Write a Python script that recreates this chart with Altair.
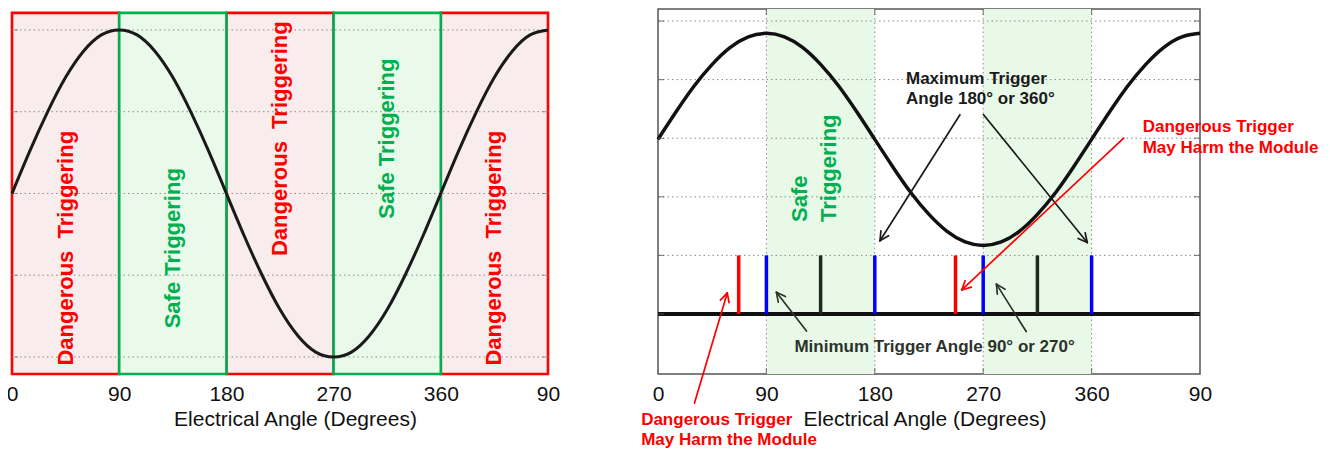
import math
import altair as alt
import pandas as pd

FONT = "Liberation Sans"
RED = "#ff0000"
GREEN = "#00b050"
BLUE = "#0000ff"
DARK = "#1e2a1e"

# ---------------- data ----------------
angles = list(range(0, 451, 15))
# waveform (normalised amplitude)
left_wave = [0, .26, .5, .71, .87, .97, 1, .97, .87, .71, .5, .26, 0, -.26, -.5, -.71,
             -.87, -.97, -1, -.97, -.87, -.71, -.5, -.26, 0, .26, .5, .71, .87, .97, 1]
# waveform (grid units)
right_wave = [2.98, 3.45, 3.89, 4.26, 4.55, 4.73, 4.79, 4.73, 4.55, 4.26, 3.89, 3.45, 2.98,
              2.51, 2.07, 1.70, 1.41, 1.23, 1.17, 1.23, 1.41, 1.70, 2.07, 2.51, 2.98, 3.45,
              3.89, 4.26, 4.55, 4.73, 4.79]

tick_angles = [0, 90, 180, 270, 360, 450]

region_start = [0, 90, 180, 270, 360]
region_end = [90, 180, 270, 360, 450]
region_kind = ["danger", "safe", "danger", "safe", "danger"]
left_label_x = [45, 135, 225, 315, 405]
left_label_y = [-0.335, -0.335, 0.335, 0.335, -0.335]
left_label_text = ["Dangerous\u00a0 Triggering", "Safe Triggering", "Dangerous\u00a0 Triggering",
                   "Safe Triggering", "Dangerous\u00a0 Triggering"]
left_grid = [-1, -0.5, 0, 0.5, 1]
left_frame = [-1.104, 1.104]
left_ydom = [-1.104, 1.128]

safe_start = [90, 270]
safe_end = [180, 360]
right_grid = [0, 1, 2, 3, 4, 5]
right_ydom = [-1.024, 5.205]
trig_angle = [67, 90, 135, 180, 247, 270, 315, 360]
trig_color = [RED, BLUE, DARK, BLUE, RED, BLUE, DARK, BLUE]
trig_low = [0] * 8
trig_high = [1] * 8

arrow_x0 = [250.7, 270.3, 123.3, 305.7, 30.3, 386.6]
arrow_y0 = [3.40, 3.40, -0.29, -0.30, -1.52, 3.00]
arrow_x1 = [184.3, 356.4, 98.3, 281.0, 57.5, 252.2]
arrow_y1 = [1.25, 1.22, 0.37, 0.51, 0.36, 0.41]
arrow_color = ["#1a1a1a", "#1a1a1a", "#2b332b", "#2b332b", RED, RED]

note_text = ["Maximum Trigger", "Angle 180\u00b0 or 360\u00b0",
             "Minimum Trigger Angle 90\u00b0 or 270\u00b0",
             "Dangerous Trigger", "May Harm the Module",
             "Dangerous Trigger", "May Harm the Module"]
note_x = [205.9, 205.9, 113.3, 402.4, 402.4, -14.0, -14.0]
note_y = [4.01, 3.67, -0.56, 3.19, 2.83, -1.81, -2.15]
note_color = ["#1a1a1a", "#1a1a1a", "#2b332b", RED, RED, RED, RED]

safe_text = ["Safe", "Triggering"]
safe_x = [117.9, 142.0]
safe_y = [1.57, 1.57]

# ---------------- sizes ----------------
LW, RW, H = 536, 542, 365

def xenc(field="x", title_x=268):
    return alt.X(
        f"{field}:Q",
        scale=alt.Scale(domain=[0, 450], nice=False, zero=False),
        axis=alt.Axis(values=tick_angles, labelExpr="datum.value == 450 ? '90' : datum.label",
                      labelFlush=False, domain=False, ticks=False, tickSize=0, grid=False,
                      labelFont=FONT, labelFontSize=21, labelColor="#111111",
                      labelPadding=26, labelBaseline="alphabetic",
                      title="Electrical Angle (Degrees)", titleFont=FONT, titleFontSize=21,
                      titleFontWeight="normal", titleColor="#111111",
                      titleX=title_x, titleY=51, titleBaseline="alphabetic", titleAlign="center"),
    )

def yenc(dom, field="y"):
    return alt.Y(f"{field}:Q", scale=alt.Scale(domain=dom, nice=False, zero=False), axis=None)

# ---------------- left panel ----------------
lx = lambda f="x": xenc(f, 283)
regions = pd.DataFrame({"x": region_start, "x2": region_end, "kind": region_kind,
                        "y": [left_frame[0]] * 5, "y2": [left_frame[1]] * 5})
danger_rect = alt.Chart(regions[regions.kind == "danger"]).mark_rect(
    fill="#f9ecec", stroke=RED, strokeWidth=2.6).encode(
    x=lx(), x2="x2:Q", y=yenc(left_ydom), y2="y2:Q")
safe_rect = alt.Chart(regions[regions.kind == "safe"]).mark_rect(
    fill="#eafaea", stroke=GREEN, strokeWidth=2.6).encode(
    x=lx(), x2="x2:Q", y=yenc(left_ydom), y2="y2:Q")
lgrid = alt.Chart(pd.DataFrame({"y": left_grid})).mark_rule(
    color="#8c8c8c", strokeDash=[1.5, 3], strokeWidth=1).encode(y=yenc(left_ydom))
lticks = alt.Chart(pd.DataFrame({"x": [0] * 5 + [450] * 5, "y": left_grid * 2})).mark_tick(
    orient="horizontal", size=12, thickness=1, color="#777777", clip=True).encode(
    x=lx(), y=yenc(left_ydom))
lwave = alt.Chart(pd.DataFrame({"x": angles, "y": left_wave})).mark_line(
    color="#1a1a1a", strokeWidth=3, interpolate="natural").encode(x=lx(), y=yenc(left_ydom))
ltext_df = pd.DataFrame({"x": left_label_x, "y": left_label_y, "t": left_label_text,
                         "c": [RED if k == "danger" else GREEN for k in region_kind]})
ltext = alt.Chart(ltext_df).mark_text(
    angle=270, align="center", baseline="middle", font=FONT, fontSize=22,
    fontWeight="bold").encode(x=lx(), y=yenc(left_ydom), text="t:N",
                              color=alt.Color("c:N", scale=None))

left = alt.layer(danger_rect, safe_rect, lgrid, lticks, lwave, ltext).properties(
    width=LW, height=H, view=alt.ViewBackground(stroke="transparent"))

# ---------------- right panel ----------------
rx = lambda f="x": xenc(f, 266.5)
kx = RW / 450.0
ky = H / (right_ydom[1] - right_ydom[0])

safe_df = pd.DataFrame({"x": safe_start, "x2": safe_end})
rsafe = alt.Chart(safe_df).mark_rect(fill="#e8f9e8").encode(x=rx(), x2="x2:Q")
rgrid_h = alt.Chart(pd.DataFrame({"y": right_grid})).mark_rule(
    color="#8c8c8c", strokeDash=[1.5, 3], strokeWidth=1).encode(y=yenc(right_ydom))
rgrid_v = alt.Chart(pd.DataFrame({"x": tick_angles[1:-1]})).mark_rule(
    color="#8c8c8c", strokeDash=[1.5, 3], strokeWidth=1).encode(x=rx())
rticks_y = alt.Chart(pd.DataFrame({"x": [0] * 6 + [450] * 6, "y": right_grid * 2})).mark_tick(
    orient="horizontal", size=12, thickness=1.2, color="#555555", clip=True).encode(
    x=rx(), y=yenc(right_ydom))
rticks_x = alt.Chart(pd.DataFrame({"x": tick_angles[1:-1] * 2,
                                   "y": [right_ydom[0]] * 4 + [right_ydom[1]] * 4})).mark_tick(
    orient="vertical", size=12, thickness=1.2, color="#555555", clip=True).encode(
    x=rx(), y=yenc(right_ydom))
baseline = alt.Chart(pd.DataFrame({"y": [0]})).mark_rule(
    color="#111111", strokeWidth=4).encode(y=yenc(right_ydom))
bars = alt.Chart(pd.DataFrame({"x": trig_angle, "y": trig_low, "y2": trig_high,
                               "c": trig_color})).mark_rule(strokeWidth=3.5).encode(
    x=rx(), y=yenc(right_ydom), y2="y2:Q", color=alt.Color("c:N", scale=None))
rwave = alt.Chart(pd.DataFrame({"x": angles, "y": right_wave})).mark_line(
    color="#111111", strokeWidth=3.5, interpolate="natural").encode(x=rx(), y=yenc(right_ydom))

# arrows: shaft + two head wings (wings derived from the end points)
segs = []
L, A = 10.0, math.radians(27)
for x0, y0, x1, y1, c in zip(arrow_x0, arrow_y0, arrow_x1, arrow_y1, arrow_color):
    segs.append((x0, y0, x1, y1, c))
    dx, dy = (x1 - x0) * kx, -(y1 - y0) * ky
    n = math.hypot(dx, dy)
    ux, uy = dx / n, dy / n
    for s in (1, -1):
        a = A * s
        bx = -ux * math.cos(a) + uy * math.sin(a)
        by = -ux * math.sin(a) - uy * math.cos(a)
        segs.append((x1, y1, x1 + L * bx / kx, y1 - L * by / ky, c))
arrows_df = pd.DataFrame(segs, columns=["x", "y", "x2", "y2", "c"])
arrows = alt.Chart(arrows_df).mark_rule(strokeWidth=1.7, strokeCap="round").encode(
    x=rx(), y=yenc(right_ydom), x2="x2:Q", y2="y2:Q", color=alt.Color("c:N", scale=None))

notes = alt.Chart(pd.DataFrame({"x": note_x, "y": note_y, "t": note_text, "c": note_color})).mark_text(
    align="left", baseline="middle", font=FONT, fontSize=17, fontWeight="bold").encode(
    x=rx(), y=yenc(right_ydom), text="t:N", color=alt.Color("c:N", scale=None))
safe_notes = alt.Chart(pd.DataFrame({"x": safe_x, "y": safe_y, "t": safe_text})).mark_text(
    angle=270, align="left", baseline="middle", font=FONT, fontSize=22, fontWeight="bold",
    color=GREEN).encode(x=rx(), y=yenc(right_ydom), text="t:N")

right = alt.layer(rsafe, rgrid_h, rgrid_v, baseline, bars, rwave, arrows, notes, safe_notes,
                  rticks_y, rticks_x).properties(
    width=RW, height=H, view=alt.ViewBackground(stroke="#555555", strokeWidth=1.5))

chart = alt.hconcat(left, right, spacing=110, bounds="flush").configure(
    padding={"left": -3, "top": -1, "right": 0, "bottom": 0}, background="white")

chart.save("out.html", embed_options={"renderer": "svg", "actions": False})
